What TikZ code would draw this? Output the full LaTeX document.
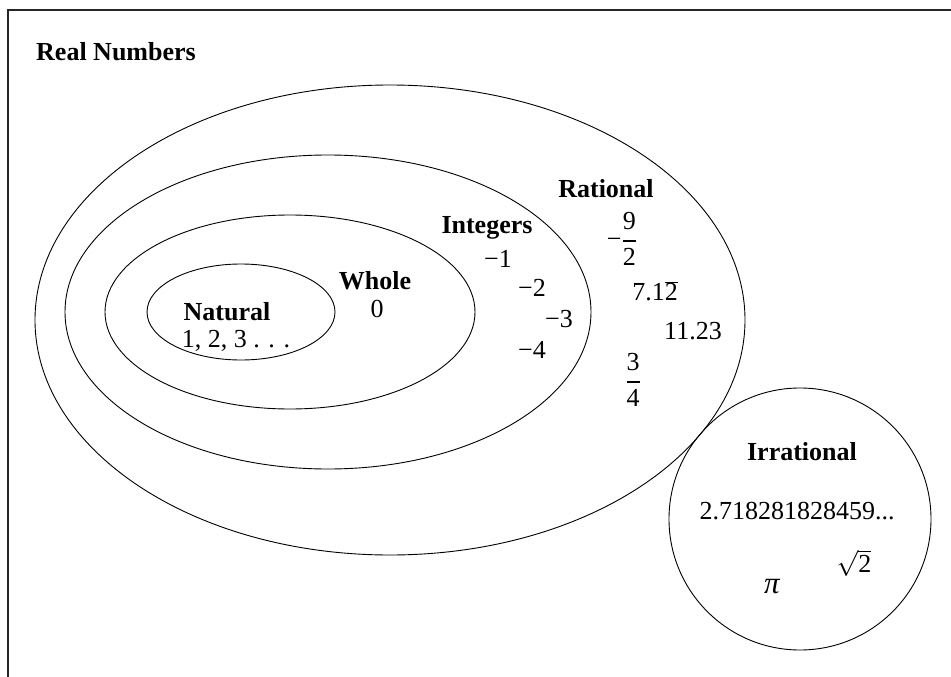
\RequirePackage{fix-cm}
\documentclass[tikz,border=0pt]{standalone}
\usepackage{fontspec}
\setmainfont{Liberation Serif}
\begin{document}
\begin{tikzpicture}[x=1pt,y=-1pt,
  curve/.style={draw=black,line width=0.9pt},
  frameline/.style={draw=black!85,line width=1.6pt},
  lbl/.style={font=\fontsize{26}{30}\selectfont\bfseries,inner sep=0pt},
  num/.style={font=\fontsize{26}{30}\selectfont,inner sep=0pt}]
\useasboundingbox (0,0) rectangle (951,677);
% frame
\coordinate (ftr) at (951,10);
\coordinate (ftl) at (8,10);
\coordinate (fbl) at (8,677);
\draw[frameline] (ftr) -- (ftl) -- (fbl);
% ellipses
\coordinate (cRat) at (390,320);
\coordinate (cInt) at (328,312);
\coordinate (cWho) at (290,312);
\coordinate (cNat) at (241,312);
\coordinate (cIrr) at (800,519);
\draw[curve] (cRat) ellipse [x radius=355, y radius=235];
\draw[curve] (cInt) ellipse [x radius=263, y radius=157];
\draw[curve] (cWho) ellipse [x radius=185, y radius=97];
\draw[curve] (cNat) ellipse [x radius=94, y radius=48];
\draw[curve] (cIrr) circle [radius=131];
% labels
\node[lbl] (real) at (116,52) {Real Numbers};
\node[lbl] (rat) at (606,189) {Rational};
\node[lbl] (int) at (487,228) {Integers};
\node[lbl] (who) at (375,281) {Whole};
\node[lbl] (nat) at (227,312) {Natural};
\node[lbl] (irr) at (802,452) {Irrational};
% numbers
\node[num] (natn) at (236,341) {1, 2, 3 . . .};
\node[num] (zero) at (377,309) {0};
\node[num] (m1) at (498,259) {−1};
\node[num] (m2) at (532,288) {−2};
\node[num] (m3) at (559,319) {−3};
\node[num] (m4) at (532,350) {−4};
\node[num] (ninehalf) at (622,239) {−$\displaystyle{\mbox{9}\above1.1pt\mbox{2}}$};
\node[num] (rep) at (655,291) {7.1$\overline{\mbox{2}}$};
\node[num] (eleven) at (693,331) {11.23};
\node[num] (threeq) at (633,380) {$\displaystyle{\mbox{3}\above1.1pt\mbox{4}}$};
\node[num] (e) at (797,511) {2.718281828459...};
\node[num] (sqrt) at (854,563) {$\sqrt{\mbox{2}}$};
\node[num,font=\fontsize{31}{34}\selectfont] (pi) at (772,587) {\itshape π};
\end{tikzpicture}
\end{document}
